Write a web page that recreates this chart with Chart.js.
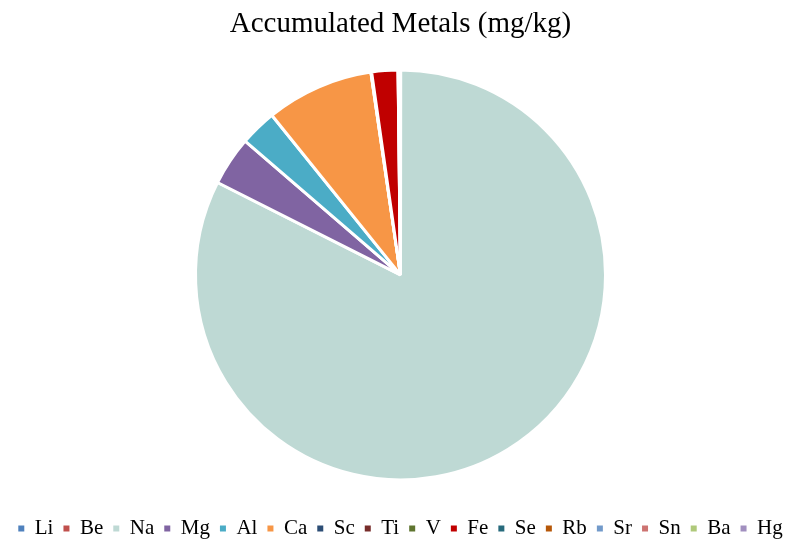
<!DOCTYPE html>
<html>
<head>
<meta charset="utf-8">
<script src="https://cdn.jsdelivr.net/npm/chart.js@4/dist/chart.umd.min.js"></script>
<style>
  html, body { margin: 0; padding: 0; background: #fff; }
  #wrap { width: 801px; height: 544px; }
</style>
</head>
<body>
<div id="wrap"><canvas id="pie-chart"></canvas></div>
<script>
// metals, values (mg/kg)
const metals = ["Li", "Be", "Na", "Mg", "Al", "Ca", "Sc", "Ti", "V", "Fe", "Se", "Rb", "Sr", "Sn", "Ba", "Hg"];
const amounts = [2, 0.1, 10000, 470, 350, 1030, 1, 5, 1, 250, 1, 10, 8, 1, 3, 0.1];
const colours = ["#4F81BD", "#C0504D", "#BED9D4", "#8064A2", "#4BACC6", "#F79646", "#2C4D75", "#772C2A",
                 "#5F7530", "#C00000", "#276A7C", "#B65708", "#729ACA", "#CD7371", "#AFC97A", "#A18FBF"];

// default pie legend items, but without the white slice border on the little squares
const defaultLabels = Chart.overrides.pie.plugins.legend.labels.generateLabels;

const ctx = document.getElementById('pie-chart');
const myChart = new Chart(ctx,
    {
        type: 'pie',
        data:
            {
                labels: metals,
                datasets:
                    [
                        {
                            data: amounts,
                            backgroundColor: colours,
                            borderColor: '#ffffff',
                            borderWidth: 3,
                            radius: 205
                        }
                    ]
            },
        options:
            {
                responsive: true,
                maintainAspectRatio: false,
                animation: false,
                layout: { padding: { top: 0, bottom: -5, left: 0, right: 0 } },
                plugins:
                    {
                        title:
                            {
                                display: true,
                                text: 'Accumulated Metals (mg/kg)',
                                color: '#000000',
                                font: { family: 'Liberation Serif', size: 29, weight: 'normal' },
                                padding: { top: 7, bottom: 0 }
                            },
                        legend:
                            {
                                position: 'bottom',
                                labels:
                                    {
                                        color: '#000000',
                                        font: { family: 'Liberation Serif', size: 21 },
                                        boxWidth: 6,
                                        boxHeight: 6,
                                        padding: 10,
                                        generateLabels: function (chart) {
                                            return defaultLabels(chart).map(function (item) {
                                                item.lineWidth = 0;
                                                item.strokeStyle = item.fillStyle;
                                                return item;
                                            });
                                        }
                                    }
                            },
                        tooltip: { enabled: false }
                    }
            }
    });
</script>
</body>
</html>
